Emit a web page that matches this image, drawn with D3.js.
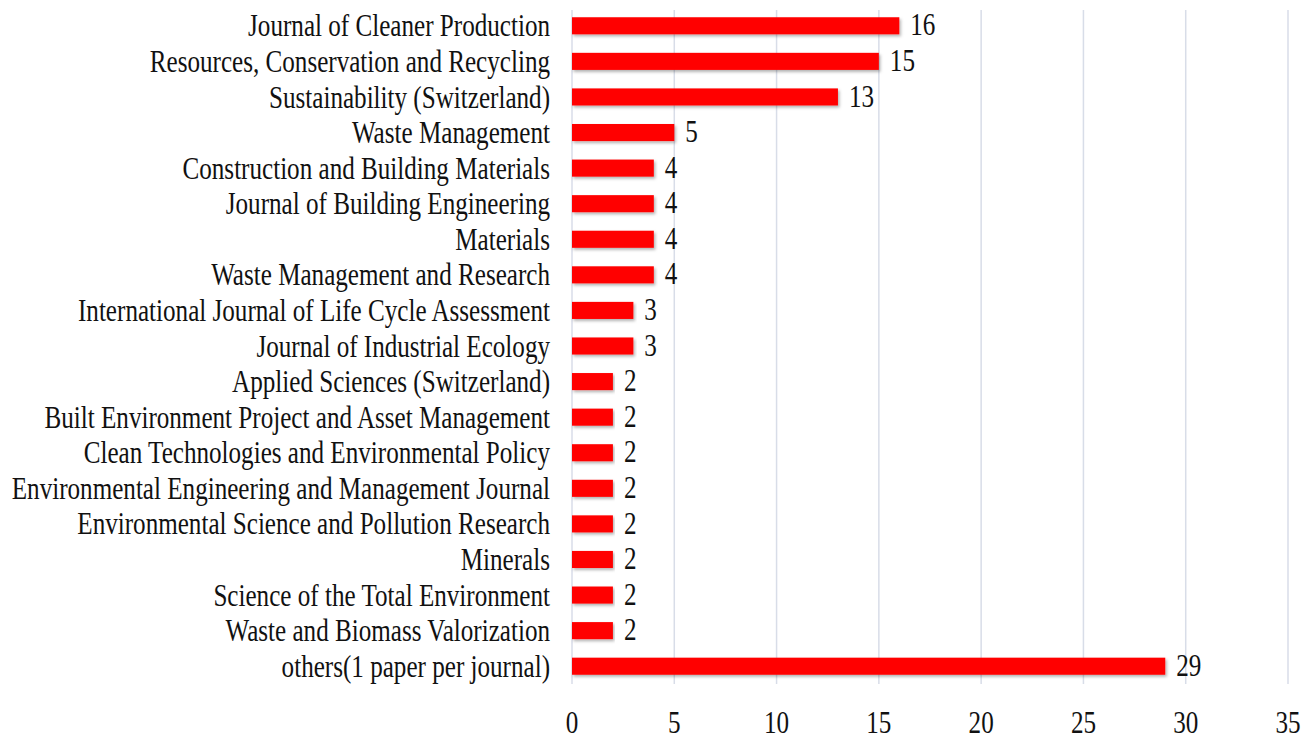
<!DOCTYPE html>
<html>
<head>
<meta charset="utf-8">
<script src="https://cdn.jsdelivr.net/npm/d3@7"></script>
<style>
  body { margin: 0; background: #fff; }
</style>
</head>
<body>
<svg id="chart"></svg>
<script>
// journals, top to bottom
var journals = [
  'Journal of Cleaner Production',
  'Resources, Conservation and Recycling',
  'Sustainability (Switzerland)',
  'Waste Management',
  'Construction and Building Materials',
  'Journal of Building Engineering',
  'Materials',
  'Waste Management and Research',
  'International Journal of Life Cycle Assessment',
  'Journal of Industrial Ecology',
  'Applied Sciences (Switzerland)',
  'Built Environment Project and Asset Management',
  'Clean Technologies and Environmental Policy',
  'Environmental Engineering and Management Journal',
  'Environmental Science and Pollution Research',
  'Minerals',
  'Science of the Total Environment',
  'Waste and Biomass Valorization',
  'others(1 paper per journal)'
];
var papers = [16, 15, 13, 5, 4, 4, 4, 4, 3, 3, 2, 2, 2, 2, 2, 2, 2, 2, 29];
var xTicks = [0, 5, 10, 15, 20, 25, 30, 35];

var width = 1315, height = 740;
var font = "'Liberation Serif', 'DejaVu Serif', serif";
var fontSize = 32, squeeze = 0.785;   // text in the source is horizontally condensed

var svg = d3.select('#chart').attr('width', width).attr('height', height);

var defs = svg.append('defs');
var shadow = defs.append('filter').attr('id', 'shadow')
  .attr('x', '-5%').attr('y', '-30%').attr('width', '110%').attr('height', '180%');
shadow.append('feDropShadow')
  .attr('dx', 1.5).attr('dy', 2).attr('stdDeviation', 1.5)
  .attr('flood-color', '#000').attr('flood-opacity', 0.3);

var x = d3.scaleLinear().domain([0, 35]).range([572, 1288]);
var y = d3.scaleBand().domain(journals).range([8, 684]).paddingInner(0.52).paddingOuter(0.26);

// vertical grid
svg.append('g').selectAll('line')
  .data(xTicks)
  .enter()
  .append('line')
  .attr('x1', function (d) { return x(d); })
  .attr('x2', function (d) { return x(d); })
  .attr('y1', 10)
  .attr('y2', 684)
  .attr('stroke', '#d8dde8')
  .attr('stroke-width', 1.5);

// bars
svg.append('g').selectAll('rect')
  .data(papers)
  .enter()
  .append('rect')
  .attr('x', x(0))
  .attr('y', function (d, i) { return y(journals[i]); })
  .attr('width', function (d) { return x(d) - x(0); })
  .attr('height', y.bandwidth())
  .attr('fill', '#ff0000')
  .attr('filter', 'url(#shadow)');

function squeezed(sel, px, py) {
  return sel.attr('transform', 'translate(' + px + ',' + py + ') scale(' + squeeze + ',1)')
    .attr('font-family', font)
    .attr('font-size', fontSize)
    .attr('fill', '#111');
}

// category labels
svg.append('g').selectAll('text')
  .data(journals)
  .enter()
  .append('text')
  .each(function (d) {
    squeezed(d3.select(this), 550, y(d) + y.bandwidth() / 2);
  })
  .attr('text-anchor', 'end')
  .attr('dy', '0.33em')
  .text(function (d) { return d; });

// value labels
svg.append('g').selectAll('text')
  .data(papers)
  .enter()
  .append('text')
  .each(function (d, i) {
    squeezed(d3.select(this), x(d) + 11, y(journals[i]) + y.bandwidth() / 2);
  })
  .attr('dy', '0.3em')
  .text(function (d) { return d; });

// x tick labels
svg.append('g').selectAll('text')
  .data(xTicks)
  .enter()
  .append('text')
  .each(function (d) {
    squeezed(d3.select(this), x(d), 722);
  })
  .attr('text-anchor', 'middle')
  .attr('dy', '0.35em')
  .text(function (d) { return d; });
</script>
</body>
</html>
